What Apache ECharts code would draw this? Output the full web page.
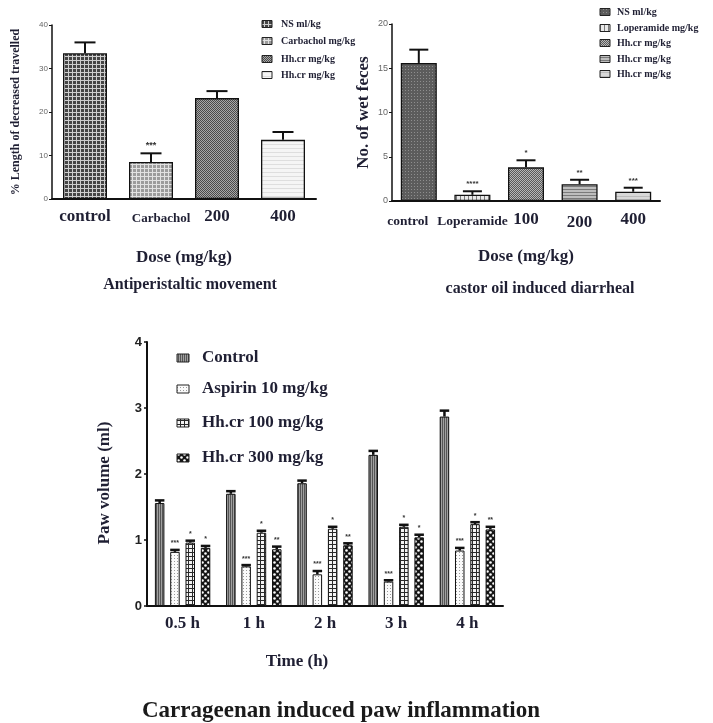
<!DOCTYPE html>
<html>
<head>
<meta charset="utf-8">
<script src="https://cdn.jsdelivr.net/npm/echarts@6/dist/echarts.min.js"></script>
<style>
  html, body { margin: 0; padding: 0; background: #fff; }
  #chart { width: 713px; height: 723px; }
</style>
</head>
<body>
<div id="chart"></div>
<script>
// ---- Antiperistaltic movement ----
const apCats = ['control', 'Carbachol', '200', '400'];
const apMeans = [33.5, 8.5, 23.2, 13.6];
const apErr = [2.5, 2.0, 1.6, 1.8];
const apSig = ['', '***', '', ''];
const apLegend = ['NS ml/kg', 'Carbachol mg/kg', 'Hh.cr mg/kg', 'Hh.cr mg/kg'];

// ---- Castor oil induced diarrhea ----
const coCats = ['control', 'Loperamide', '100', '200', '400'];
const coMeans = [15.6, 0.7, 3.8, 1.9, 1.05];
const coErr = [1.5, 0.4, 0.8, 0.5, 0.45];
const coSig = ['', '****', '*', '**', '***'];
const coLegend = ['NS ml/kg', 'Loperamide mg/kg', 'Hh.cr mg/kg', 'Hh.cr mg/kg', 'Hh.cr mg/kg'];

// ---- Carrageenan paw volume ----
const pawTimes = ['0.5 h', '1 h', '2 h', '3 h', '4 h'];
const pawGroups = ['Control', 'Aspirin 10 mg/kg', 'Hh.cr 100 mg/kg', 'Hh.cr 300 mg/kg'];
const pawControl = [1.56, 1.70, 1.86, 2.29, 2.87];
const pawAspirin = [0.82, 0.60, 0.48, 0.37, 0.84];
const pawHh100 = [0.96, 1.11, 1.17, 1.20, 1.24];
const pawHh300 = [0.88, 0.86, 0.92, 1.04, 1.16];
const pawControlErr = [0.04, 0.04, 0.04, 0.06, 0.09];
const pawAspirinErr = [0.03, 0.02, 0.05, 0.02, 0.04];
const pawHh100Err = [0.03, 0.03, 0.03, 0.03, 0.03];
const pawHh300Err = [0.03, 0.04, 0.03, 0.04, 0.04];
const pawControlSig = ['', '', '', '', ''];
const pawAspirinSig = ['***', '***', '***', '***', '***'];
const pawHh100Sig = ['*', '*', '*', '*', '*'];
const pawHh300Sig = ['*', '**', '**', '*', '**'];

// ---- fill patterns ----
function makePattern(size, bg, draw) {
  const c = document.createElement('canvas');
  c.width = size; c.height = size;
  const g = c.getContext('2d');
  g.fillStyle = bg; g.fillRect(0, 0, size, size);
  draw(g, size);
  return { image: c, repeat: 'repeat' };
}
const gridPat = (bg, fg, s) => makePattern(s, bg, (g, n) => { g.fillStyle = fg; g.fillRect(0, 0, n, 1); g.fillRect(0, 0, 1, n); });
const hPat = (bg, fg, s) => makePattern(s, bg, (g, n) => { g.fillStyle = fg; g.fillRect(0, 0, n, 1); });
const vPat = (bg, fg, s) => makePattern(s, bg, (g, n) => { g.fillStyle = fg; g.fillRect(0, 0, 1, n); });
const dotPat = (bg, fg, s) => makePattern(s, bg, (g, n) => { g.fillStyle = fg; g.fillRect(0, 0, 1, 1); });
const checkPat = (bg, fg) => makePattern(2, bg, (g) => { g.fillStyle = fg; g.fillRect(0, 0, 1, 1); g.fillRect(1, 1, 1, 1); });
const circlePat = (bg, fg) => makePattern(6, bg, (g) => {
  g.fillStyle = fg;
  g.beginPath(); g.arc(1.5, 1.5, 1.3, 0, Math.PI * 2); g.fill();
  g.beginPath(); g.arc(4.5, 4.5, 1.3, 0, Math.PI * 2); g.fill();
});

const apFills = [
  gridPat('#454545', '#cfcfcf', 4),
  gridPat('#9c9c9c', '#e2e2e2', 4),
  checkPat('#a8a8a8', '#4a4a4a'),
  hPat('#f5f5f5', '#dedede', 4)
];
const coFills = [
  dotPat('#5c5c5c', '#8e8e8e', 3),
  vPat('#e8e8e8', '#7a7a7a', 4),
  checkPat('#5a5a5a', '#b8b8b8'),
  hPat('#bdbdbd', '#7a7a7a', 3),
  hPat('#d9d9d9', '#bcbcbc', 4)
];
const pawFills = [
  vPat('#a0a0a0', '#555', 2),
  dotPat('#fafafa', '#9a9a9a', 3),
  gridPat('#f4f4f4', '#2a2a2a', 4),
  circlePat('#151515', '#ffffff')
];

const INK = '#1f1f33';
const SERIF = '"Liberation Serif", "DejaVu Serif", serif';
const SANS = '"Liberation Sans", Arial, sans-serif';
const serifBold = (size, extra) => Object.assign({ fontFamily: SERIF, fontWeight: 'bold', fontSize: size, color: INK }, extra || {});

// error bar with optional significance marks, drawn on the axes of one grid
function errorSeries(xi, means, errs, sigs, offset, capW, sigSize, lw) {
  return {
    type: 'custom',
    xAxisIndex: xi, yAxisIndex: xi,
    z: 5,
    data: means.map((m, i) => [i, m, errs[i]]),
    encode: { x: 0, y: 1 },
    renderItem: function (params, api) {
      const i = api.value(0), m = api.value(1), e = api.value(2);
      const base = api.coord([i, m]);
      const top = api.coord([i, m + e]);
      const x = base[0] + offset;
      const children = [
        { type: 'line', shape: { x1: x, y1: base[1], x2: x, y2: top[1] }, style: { stroke: '#111', lineWidth: lw } },
        { type: 'line', shape: { x1: x - capW / 2, y1: top[1], x2: x + capW / 2, y2: top[1] }, style: { stroke: '#111', lineWidth: lw } }
      ];
      const s = sigs[params.dataIndex];
      if (s) {
        children.push({
          type: 'text',
          style: { text: s, x: x, y: top[1] - 3, textAlign: 'center', textVerticalAlign: 'bottom',
                   font: 'bold ' + sigSize + 'px ' + SANS, fill: '#333' }
        });
      }
      return { type: 'group', children: children };
    }
  };
}

function legendItems(names, fills, x, ys, iconW, iconH, textX, fontSize) {
  const out = [];
  names.forEach((n, i) => {
    out.push({ type: 'rect', shape: { x: x, y: ys[i] - iconH / 2, width: iconW, height: iconH },
               style: { fill: fills[i], stroke: '#222', lineWidth: 1 } });
    out.push({ type: 'text', style: { text: n, x: textX, y: ys[i], textVerticalAlign: 'middle',
               font: 'bold ' + fontSize + 'px ' + SERIF, fill: INK } });
  });
  return out;
}

// label styling per category position
const apLabelKind = ['big', 'small', 'big', 'big'];
const coLabelKind = ['ctl', 'mid', 'big', 'low', 'big'];

const chart = echarts.init(document.getElementById('chart'), null, { renderer: 'canvas' });

const pawSeries = [pawControl, pawAspirin, pawHh100, pawHh300];
const pawErrs = [pawControlErr, pawAspirinErr, pawHh100Err, pawHh300Err];
const pawSigs = [pawControlSig, pawAspirinSig, pawHh100Sig, pawHh300Sig];
const PAW_BW = 9.5, PAW_STEP = 15.3;

const option = {
  animation: false,
  backgroundColor: '#fff',
  grid: [
    { left: 52, top: 25, width: 264, height: 174 },
    { left: 392, top: 24, width: 268, height: 177 },
    { left: 147, top: 342, width: 356, height: 264 }
  ],
  xAxis: [
    {
      gridIndex: 0, type: 'category', data: apCats,
      axisLine: { lineStyle: { color: '#111', width: 2 } },
      axisTick: { alignWithLabel: true, length: 4, lineStyle: { color: '#111', width: 1.5 } },
      axisLabel: {
        margin: 9, interval: 0,
        formatter: (v, i) => '{' + apLabelKind[i] + '|' + v + '}',
        rich: {
          big: serifBold(17),
          small: serifBold(13, { padding: [4, 0, 0, 20] })
        }
      },
      name: 'Dose (mg/kg)', nameLocation: 'middle', nameGap: 50,
      nameTextStyle: serifBold(17)
    },
    {
      gridIndex: 1, type: 'category', data: coCats,
      axisLine: { lineStyle: { color: '#111', width: 2 } },
      axisTick: { alignWithLabel: true, length: 4, lineStyle: { color: '#111', width: 1.5 } },
      axisLabel: {
        margin: 10, interval: 0,
        formatter: (v, i) => '{' + coLabelKind[i] + '|' + v + '}',
        rich: {
          big: serifBold(17),
          low: serifBold(17, { padding: [3, 0, 0, 0] }),
          mid: serifBold(13.5, { padding: [4, 0, 0, 0] }),
          ctl: serifBold(13.5, { padding: [4, 22, 0, 0] })
        }
      },
      name: 'Dose (mg/kg)', nameLocation: 'middle', nameGap: 47,
      nameTextStyle: serifBold(17)
    },
    {
      gridIndex: 2, type: 'category', data: pawTimes,
      axisLine: { lineStyle: { color: '#111', width: 2 } },
      axisTick: { alignWithLabel: true, length: 4, lineStyle: { color: '#111', width: 1.5 } },
      axisLabel: Object.assign({ margin: 9, interval: 0 }, serifBold(17)),
      name: 'Time (h)', nameLocation: 'middle', nameGap: 47,
      nameTextStyle: serifBold(17, { padding: [0, 56, 0, 0] })
    }
  ],
  yAxis: [
    {
      gridIndex: 0, type: 'value', min: 0, max: 40, interval: 10,
      axisLine: { show: true, lineStyle: { color: '#111', width: 1.5 } },
      axisTick: { show: true, length: 3, lineStyle: { color: '#111' } },
      axisLabel: { fontSize: 8, color: '#666', fontFamily: SANS, margin: 4 },
      splitLine: { show: false },
      name: '% Length of decreased travelled', nameLocation: 'middle', nameRotate: 90, nameGap: 30,
      nameTextStyle: serifBold(12)
    },
    {
      gridIndex: 1, type: 'value', min: 0, max: 20, interval: 5,
      axisLine: { show: true, lineStyle: { color: '#111', width: 1.5 } },
      axisTick: { show: true, length: 3, lineStyle: { color: '#111' } },
      axisLabel: { fontSize: 9, color: '#666', fontFamily: SANS, margin: 4 },
      splitLine: { show: false },
      name: 'No. of wet feces', nameLocation: 'middle', nameRotate: 90, nameGap: 20,
      nameTextStyle: serifBold(17)
    },
    {
      gridIndex: 2, type: 'value', min: 0, max: 4, interval: 1,
      axisLine: { show: true, lineStyle: { color: '#111', width: 2 } },
      axisTick: { show: true, length: 3, lineStyle: { color: '#111', width: 1.5 } },
      axisLabel: { fontFamily: SANS, fontWeight: 'bold', fontSize: 13, color: '#222', margin: 5 },
      splitLine: { show: false },
      name: 'Paw volume (ml)', nameLocation: 'middle', nameRotate: 90, nameGap: 34,
      nameTextStyle: serifBold(17, { padding: [0, 18, 0, 0] })
    }
  ],
  series: [
    {
      type: 'bar', xAxisIndex: 0, yAxisIndex: 0, barWidth: 44,
      itemStyle: { borderColor: '#111', borderWidth: 1.3 },
      data: apMeans.map((v, i) => ({ value: v, itemStyle: { color: apFills[i] } }))
    },
    errorSeries(0, apMeans, apErr, apSig, 0, 21, 9, 2),
    {
      type: 'bar', xAxisIndex: 1, yAxisIndex: 1, barWidth: 36,
      itemStyle: { borderColor: '#111', borderWidth: 1.3 },
      data: coMeans.map((v, i) => ({ value: v, itemStyle: { color: coFills[i] } }))
    },
    errorSeries(1, coMeans, coErr, coSig, 0, 19, 8, 2)
  ].concat(
    pawSeries.map((vals, k) => ({
      type: 'bar', name: pawGroups[k], xAxisIndex: 2, yAxisIndex: 2,
      barWidth: PAW_BW, barGap: ((PAW_STEP - PAW_BW) / PAW_BW * 100).toFixed(1) + '%',
      itemStyle: { color: pawFills[k], borderColor: '#111', borderWidth: 1 },
      data: vals
    })),
    pawSeries.map((vals, k) => errorSeries(2, vals, pawErrs[k], pawSigs[k], (k - 1.5) * PAW_STEP, PAW_BW, 7, 2.5))
  ),
  graphic: [].concat(
    legendItems(apLegend, apFills, 262, [24, 41, 59, 75], 10, 7, 281, 10),
    legendItems(coLegend, coFills, 600, [12, 28, 43, 59, 74], 10, 7, 617, 10),
    legendItems(pawGroups, pawFills, 177, [358, 389, 423, 458], 12, 8, 202, 17),
    [
      { type: 'text', style: { text: 'Antiperistaltic movement', x: 190, y: 285, textAlign: 'center', textVerticalAlign: 'middle', font: 'bold 16px ' + SERIF, fill: INK } },
      { type: 'text', style: { text: 'castor oil induced diarrheal', x: 540, y: 289, textAlign: 'center', textVerticalAlign: 'middle', font: 'bold 16px ' + SERIF, fill: INK } },
      { type: 'text', style: { text: 'Carrageenan induced paw inflammation', x: 341, y: 711, textAlign: 'center', textVerticalAlign: 'middle', font: 'bold 23px ' + SERIF, fill: '#1a1a1a' } }
    ]
  )
};

chart.setOption(option);
</script>
</body>
</html>
